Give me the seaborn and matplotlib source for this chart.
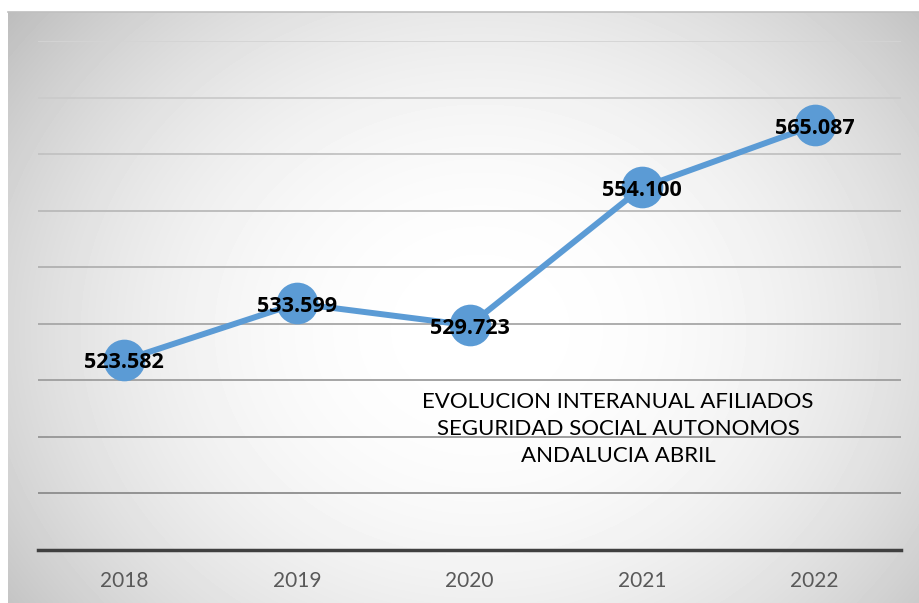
import numpy as np
import pandas as pd
import matplotlib
matplotlib.use("Agg")
import matplotlib.pyplot as plt
import seaborn as sns

years = ["2018", "2019", "2020", "2021", "2022"]
afiliados = [523582, 533599, 529723, 554100, 565087]
title_lines = ["EVOLUCION INTERANUAL AFILIADOS",
               "SEGURIDAD SOCIAL AUTONOMOS",
               "ANDALUCIA ABRIL"]

sns.set_theme(style="white")
plt.rcParams['font.family'] = ['Lato', 'DejaVu Sans']

W, H = 919, 603
fig = plt.figure(figsize=(W / 100, H / 100), dpi=100)
fig.patch.set_facecolor("white")

# background gradient panel
bx0, by0 = 8, 12
bw, bh = W - bx0, H - by0
bg = fig.add_axes([bx0 / W, 0, bw / W, bh / H])
yy, xx = np.mgrid[0:bh, 0:bw]
cx, cy = 480 - bx0, 330 - by0
d = np.sqrt(((xx - cx) / 1.0) ** 2 + ((yy - cy) / 0.85) ** 2)
d = d / d.max()
val = 1.0 - 0.26 * np.clip(d, 0, 1) ** 2.2
bg.imshow(val, cmap="gray", vmin=0, vmax=1, aspect="auto", interpolation="bilinear")
bg.set_xticks([]); bg.set_yticks([])
for s in ["left", "right", "bottom"]:
    bg.spines[s].set_visible(False)
bg.spines["top"].set_color("#bfbfbf")
bg.spines["top"].set_linewidth(1.2)
bg.set_zorder(0)

# main axes
left, right = 38, 901
base_y, top_y = 550, 41
ax = fig.add_axes([left / W, (H - base_y) / H, (right - left) / W, (base_y - top_y) / H])
ax.set_zorder(1)
ax.patch.set_alpha(0)

df = pd.DataFrame({"year": years, "val": [v / 1000 for v in afiliados]})
df["x"] = range(len(years))

ax.set_ylim(490, 580)
ax.set_xlim(-0.5, len(years) - 0.5)

grid_vals = np.arange(500, 581, 10)
for g in grid_vals:
    t = (g - 500) / 80.0
    c = 0.55 + 0.28 * t
    ax.axhline(g, color=(c, c, c), lw=1.3, zorder=1)

sns.lineplot(data=df, x="x", y="val", ax=ax, color="#5b9bd5", lw=4.3,
             marker="o", markersize=30, markeredgewidth=0, zorder=3)

for xi, v in zip(df["x"], afiliados):
    lab = f"{v:,}".replace(",", ".")
    ax.text(xi, v / 1000 - 0.5, lab, ha="center", va="center", fontsize=15.5,
            fontweight="bold", color="black", zorder=4,
            family=["Open Sans", "DejaVu Sans"])

ax.text(0.672, 0.238, "\n".join(title_lines), transform=ax.transAxes,
        ha="center", va="center", fontsize=16, color="black",
        linespacing=1.45, zorder=4)

ax.set_xticks(df["x"])
ax.set_xticklabels(years, fontsize=15, color="#595959")
ax.tick_params(axis="x", length=0, pad=15)
ax.set_yticks([])
ax.set_xlabel(""); ax.set_ylabel("")
for s in ["left", "right", "top"]:
    ax.spines[s].set_visible(False)
ax.spines["bottom"].set_color("#404040")
ax.spines["bottom"].set_linewidth(2.5)

fig.savefig("out.png", dpi=100)
